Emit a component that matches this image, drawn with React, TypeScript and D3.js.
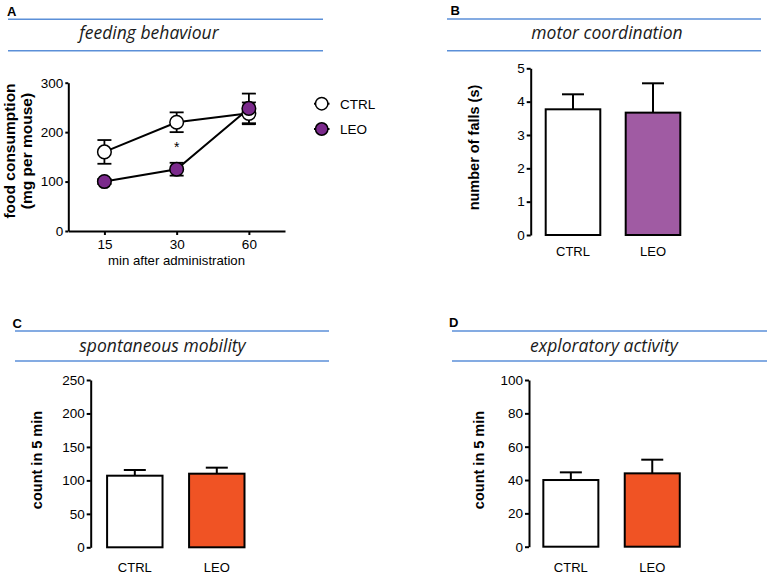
import * as d3 from "d3";
import { useEffect, useRef } from "react";

// Panel A: food consumption over time
const timepoints = ["15", "30", "60"];
const ctrlFood = [160, 220, 238];
const ctrlFoodErr = [24, 20, 22];
const leoFood = [100, 125, 248];
const leoFoodErr = [5, 13, 30];
const foodTicks = [0, 100, 200, 300];

// Bar panels
const groups = ["CTRL", "LEO"];
const fallsMean = [3.77, 3.67];
const fallsErr = [0.45, 0.88];
const fallsTicks = [0, 1, 2, 3, 4, 5];
const mobilityMean = [107, 110];
const mobilityErr = [8.5, 9];
const mobilityTicks = [0, 50, 100, 150, 200, 250];
const exploreMean = [40, 44];
const exploreErr = [4.6, 8.2];
const exploreTicks = [0, 20, 40, 60, 80, 100];

const BLUE = "#5b8fd8";
const PURPLE_DARK = "#7b2a8c";
const PURPLE = "#a05ba3";
const ORANGE = "#f05324";
const SANS = "'Liberation Sans', Arial, sans-serif";
const TITLE_FONT = "'Open Sans', sans-serif";

type Sel = d3.Selection<SVGGElement, unknown, null, undefined>;

function header(g: Sel, letter: string, lx: number, ly: number, x1: number, x2: number, y1: number, y2: number, title: string, tx: number, ty: number) {
  g.append("text").attr("x", lx).attr("y", ly).attr("font-family", SANS)
    .attr("font-weight", "bold").attr("font-size", "13px").text(letter);
  [y1, y2].forEach(y => {
    g.append("line").attr("x1", x1).attr("x2", x2).attr("y1", y).attr("y2", y)
      .attr("stroke", BLUE).attr("stroke-width", 1.4);
  });
  g.append("text").attr("x", tx).attr("y", ty).attr("text-anchor", "middle")
    .attr("font-family", TITLE_FONT).attr("font-style", "italic").attr("font-size", "17.5px")
    .attr("fill", "#1a1a1a").text(title);
}

function styleAxis(a: Sel) {
  a.selectAll("path, line").attr("stroke", "#000").attr("stroke-width", 2);
  a.selectAll("text").attr("font-family", SANS).attr("font-size", "13.5px").attr("fill", "#000");
}

interface BarOpts {
  means: number[]; errs: number[]; ticks: number[]; max: number;
  fill: string; x0: number; x1: number; yTop: number; yBottom: number;
  inner: number; outer: number; label: string; labelX: number; labelY: number;
  catY: number;
}

function barPanel(g: Sel, o: BarOpts) {
  const y = d3.scaleLinear().domain([0, o.max]).range([o.yBottom, o.yTop]);
  const x = d3.scaleBand().domain(groups).range([o.x0, o.x1])
    .paddingInner(o.inner).paddingOuter(o.outer);

  // error whiskers (upward only)
  groups.forEach((gname, i) => {
    const cx = x(gname)! + x.bandwidth() / 2;
    g.append("line").attr("x1", cx).attr("x2", cx)
      .attr("y1", y(o.means[i])).attr("y2", y(o.means[i] + o.errs[i]))
      .attr("stroke", "#000").attr("stroke-width", 2);
    g.append("line").attr("x1", cx - 11).attr("x2", cx + 11)
      .attr("y1", y(o.means[i] + o.errs[i])).attr("y2", y(o.means[i] + o.errs[i]))
      .attr("stroke", "#000").attr("stroke-width", 2);
  });

  g.selectAll(null).data(groups).join("rect")
    .attr("x", d => x(d)!)
    .attr("width", x.bandwidth())
    .attr("y", (_, i) => y(o.means[i]))
    .attr("height", (_, i) => y(0) - y(o.means[i]))
    .attr("fill", (_, i) => (i === 0 ? "#fff" : o.fill))
    .attr("stroke", "#000").attr("stroke-width", 2);

  const ax = g.append("g").attr("transform", `translate(${o.x0},0)`)
    .call(d3.axisLeft(y).tickValues(o.ticks).tickSize(4).tickSizeOuter(0).tickPadding(2).tickFormat(d3.format("d")));
  styleAxis(ax);

  groups.forEach(gname => {
    g.append("text").attr("x", x(gname)! + x.bandwidth() / 2).attr("y", o.catY)
      .attr("text-anchor", "middle").attr("font-family", SANS).attr("font-size", "13px").text(gname);
  });

  g.append("text").attr("transform", `translate(${o.labelX},${o.labelY}) rotate(-90)`)
    .attr("text-anchor", "middle").attr("font-family", SANS).attr("font-weight", "bold")
    .attr("font-size", "14.5px").text(o.label);
}

const App = () => {
  const svgRef = useRef<SVGSVGElement>(null);

  useEffect(() => {
    if (!svgRef.current) return;
    const svg = d3.select(svgRef.current);
    svg.selectAll("*").remove();
    const root = svg.append("g") as unknown as Sel;

    // ---------- Panel A ----------
    const a = root.append("g");
    header(a, "A", 7, 16, 8, 323, 19.3, 50.7, "feeding behaviour", 149, 39);

    const yA = d3.scaleLinear().domain([0, 300]).range([231, 82.7]);
    const xA = d3.scalePoint().domain(timepoints).range([68.3, 285]).padding(0.5);

    const series = [
      { vals: ctrlFood, errs: ctrlFoodErr, fill: "#fff" },
      { vals: leoFood, errs: leoFoodErr, fill: PURPLE_DARK },
    ];
    const line = d3.line<number>().x((_, i) => xA(timepoints[i])!).y(d => yA(d));

    series.forEach(s => {
      a.append("path").datum(s.vals).attr("d", line).attr("fill", "none")
        .attr("stroke", "#000").attr("stroke-width", 2);
      s.vals.forEach((v, i) => {
        const cx = xA(timepoints[i])!;
        const top = yA(v + s.errs[i]);
        const bot = yA(v - s.errs[i]);
        a.append("line").attr("x1", cx).attr("x2", cx).attr("y1", top).attr("y2", bot)
          .attr("stroke", "#000").attr("stroke-width", 1.8);
        [top, bot].forEach(yy => {
          a.append("line").attr("x1", cx - 7).attr("x2", cx + 7).attr("y1", yy).attr("y2", yy)
            .attr("stroke", "#000").attr("stroke-width", 1.8);
        });
      });
    });
    series.forEach(s => {
      a.selectAll(null).data(s.vals).join("circle")
        .attr("cx", (_, i) => xA(timepoints[i])!)
        .attr("cy", d => yA(d))
        .attr("r", 6.8)
        .attr("fill", s.fill).attr("stroke", "#000").attr("stroke-width", 1.5);
    });

    // significance mark
    a.append("text").attr("x", xA("30")!).attr("y", yA(160)).attr("text-anchor", "middle")
      .attr("font-family", SANS).attr("font-size", "14px").text("*");

    const axA = a.append("g").attr("transform", "translate(68.3,0)")
      .call(d3.axisLeft(yA).tickValues(foodTicks).tickSize(3).tickSizeOuter(0).tickPadding(2));
    styleAxis(axA);
    const axAx = a.append("g").attr("transform", "translate(0,231)")
      .call(d3.axisBottom(xA).tickSize(4).tickSizeOuter(0).tickPadding(4));
    styleAxis(axAx);

    a.append("text").attr("x", 176.5).attr("y", 265).attr("text-anchor", "middle")
      .attr("font-family", SANS).attr("font-size", "13.2px").text("min after administration");
    a.append("text").attr("transform", "translate(15,151) rotate(-90)")
      .attr("text-anchor", "middle").attr("font-family", SANS).attr("font-weight", "bold")
      .attr("font-size", "15.5px").text("food consumption");
    a.append("text").attr("transform", "translate(32,151) rotate(-90)")
      .attr("text-anchor", "middle").attr("font-family", SANS).attr("font-weight", "bold")
      .attr("font-size", "15.5px").text("(mg per mouse)");

    // legend
    const legend = [
      { name: "CTRL", fill: "#fff", y: 103.7 },
      { name: "LEO", fill: PURPLE_DARK, y: 129 },
    ];
    legend.forEach(l => {
      a.append("line").attr("x1", 314).attr("x2", 329.5).attr("y1", l.y).attr("y2", l.y)
        .attr("stroke", "#000").attr("stroke-width", 2);
      a.append("circle").attr("cx", 321.7).attr("cy", l.y).attr("r", 6.2)
        .attr("fill", l.fill).attr("stroke", "#000").attr("stroke-width", 1.5);
      a.append("text").attr("x", 340).attr("y", l.y + 4.8).attr("font-family", SANS)
        .attr("font-size", "13.5px").text(l.name);
    });

    // ---------- Panel B ----------
    const b = root.append("g");
    header(b, "B", 450.5, 15, 447, 761, 19, 50.7, "motor coordination", 607, 39);
    barPanel(b, {
      means: fallsMean, errs: fallsErr, ticks: fallsTicks, max: 5, fill: PURPLE,
      x0: 530.7, x1: 695.3, yTop: 68.3, yBottom: 235, inner: 0.3175, outer: 0.1875,
      label: "number of falls (s)", labelX: 479, labelY: 147.5, catY: 255.5,
    });

    // ---------- Panel C ----------
    const c = root.append("g");
    header(c, "C", 12.5, 328, 15, 329, 331, 361, "spontaneous mobility", 162.5, 351.5);
    barPanel(c, {
      means: mobilityMean, errs: mobilityErr, ticks: mobilityTicks, max: 250, fill: ORANGE,
      x0: 90.7, x1: 260.9, yTop: 380, yBottom: 547.3, inner: 0.324, outer: 0.2,
      label: "count in 5 min", labelX: 42, labelY: 460, catY: 571.5,
    });

    // ---------- Panel D ----------
    const dd = root.append("g");
    header(dd, "D", 449, 327, 452, 767, 331, 361, "exploratory activity", 604, 351.5);
    barPanel(dd, {
      means: exploreMean, errs: exploreErr, ticks: exploreTicks, max: 100, fill: ORANGE,
      x0: 529, x1: 694.1, yTop: 380, yBottom: 546.7, inner: 0.324, outer: 0.176,
      label: "count in 5 min", labelX: 484, labelY: 460, catY: 571.5,
    });
  }, []);

  return (
    <svg
      ref={svgRef}
      width={767}
      height={576}
      style={{ position: "absolute", left: 0, top: 0, background: "#fff" }}
    />
  );
};

export default App;
